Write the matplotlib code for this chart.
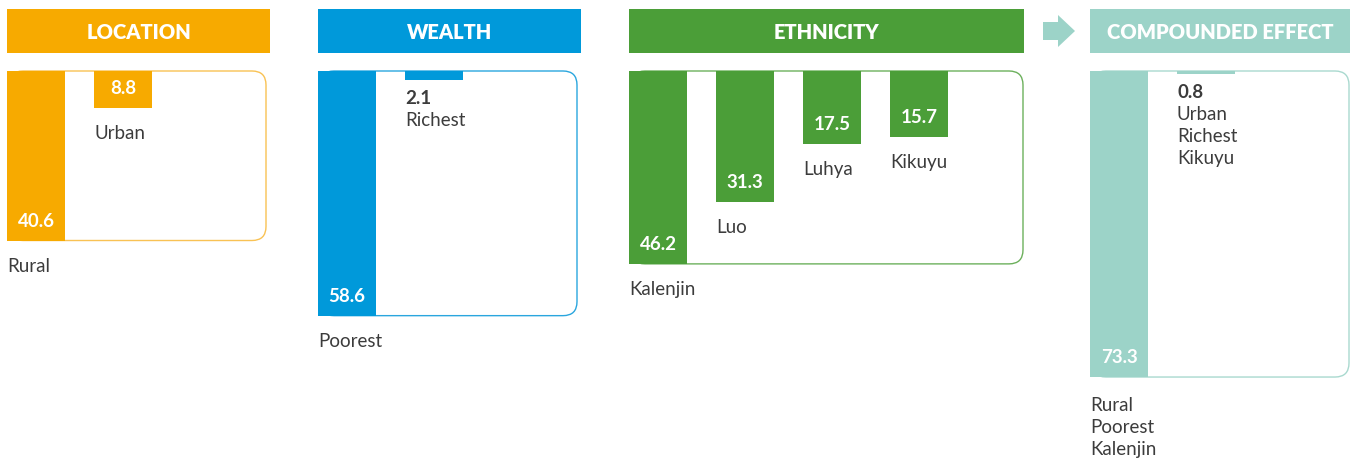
import matplotlib
matplotlib.use("Agg")
import matplotlib.pyplot as plt
from matplotlib.patches import FancyBboxPatch, Rectangle, Polygon

plt.rcParams['font.family'] = ['Lato', 'DejaVu Sans']

# --- data ---
titles = ['LOCATION', 'WEALTH', 'ETHNICITY', 'COMPOUNDED EFFECT']
location_labels = ['Rural', 'Urban']
location_values = [40.6, 8.8]
wealth_labels = ['Poorest', 'Richest']
wealth_values = [58.6, 2.1]
ethnicity_labels = ['Kalenjin', 'Luo', 'Luhya', 'Kikuyu']
ethnicity_values = [46.2, 31.3, 17.5, 15.7]
compound_labels = ['Rural\nPoorest\nKalenjin', 'Urban\nRichest\nKikuyu']
compound_values = [73.3, 0.8]

# --- style / layout (pixels) ---
colors = ['#F7AA00', '#0099DA', '#4B9E38', '#9CD3C8']
edges = ['#F9C254', '#2AA6DE', '#6CB05C', '#A9D9CF']
TEXT = '#3C3C3C'
S = 4.175           # px per percentage point
TOP = 71            # px, top of the boxes
BAR_W = 58
PITCH = 87
panel_x = [7, 318, 629, 1090]
box_w = [259, 259, 394, 259]
head_w = [263, 263, 395, 260]


def py(p):
    # pixel row -> data units (0 = box top, downwards positive)
    return (p - TOP) / S


fig = plt.figure(figsize=(13.51, 4.61), dpi=100)
ax = fig.add_axes([0, 0, 1, 1])
ax.set_xlim(0, 1351)
ax.set_ylim(py(461), py(0))
ax.axis('off')

panels = [(location_labels, location_values),
          (wealth_labels, wealth_values),
          (ethnicity_labels, ethnicity_values),
          (compound_labels, compound_values)]

for i, (labels, values) in enumerate(panels):
    x0 = panel_x[i]
    col = colors[i]

    # header
    ax.add_patch(Rectangle((x0, py(9)), head_w[i], py(53) - py(9),
                           fc=col, ec='none', zorder=1))
    ax.text(x0 + head_w[i] / 2, py(39), titles[i], color='white',
            fontsize=14.5, fontweight='heavy', ha='center', va='baseline')

    # rounded frame (left edge hidden under the tallest bar)
    vmax = max(values)
    ax.add_patch(FancyBboxPatch((x0 + 2, 0), box_w[i] - 2, vmax,
                                boxstyle='round,pad=0,rounding_size=14',
                                mutation_aspect=1 / S,
                                fc='white', ec=edges[i], lw=1, zorder=1))

    xs = [x0 + k * PITCH for k in range(len(values))]
    ax.bar(xs, values, width=BAR_W, bottom=0, align='edge',
           color=col, zorder=2)

    for x, v, lab in zip(xs, values, labels):
        bottom_px = TOP + v * S
        if v >= 5:
            ax.text(x + BAR_W / 2, py(bottom_px - 14), f'{v:.1f}',
                    color='white', fontsize=13.5, fontweight='bold',
                    ha='center', va='baseline', zorder=3)
            first = bottom_px + (34 if '\n' in lab else 31)
            for j, line in enumerate(lab.split('\n')):
                ax.text(x, py(first + 22 * j), line, color=TEXT,
                        fontsize=13.5, ha='left', va='baseline')
        else:
            ax.text(x, py(bottom_px + 24), f'{v:.1f}', color=TEXT,
                    fontsize=13.5, fontweight='bold', ha='left', va='baseline')
            for j, line in enumerate(lab.split('\n')):
                ax.text(x, py(bottom_px + 46 + 22 * j), line, color=TEXT,
                        fontsize=13.5, ha='left', va='baseline')

# arrow before the compounded panel
arrow_px = [(1043, 22), (1058, 22), (1058, 15), (1075, 31),
            (1058, 47), (1058, 40), (1043, 40)]
ax.add_patch(Polygon([(x, py(y)) for x, y in arrow_px], closed=True,
                     fc=colors[3], ec='none'))

fig.savefig('out.png', dpi=100)
